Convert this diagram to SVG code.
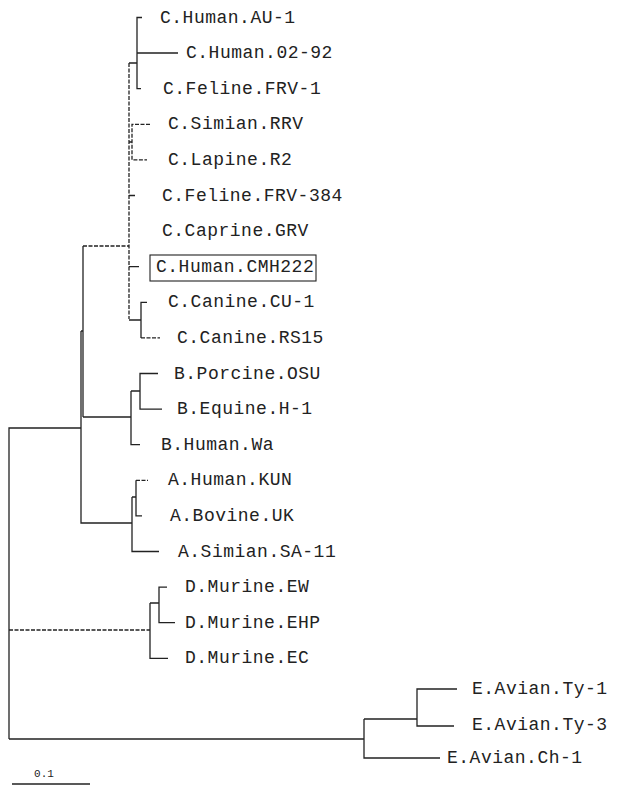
<svg xmlns="http://www.w3.org/2000/svg" width="624" height="788" viewBox="0 0 624 788">
<style>
.e{stroke:#222;stroke-width:1.3;fill:none}
.d{stroke:#222;stroke-width:1.3;fill:none;stroke-dasharray:4 1.5}
.t{font-family:"Liberation Mono","Courier New",monospace;font-size:18px;letter-spacing:0.5px;fill:#222}
.s{font-family:"Liberation Mono","Courier New",monospace;font-size:11px;fill:#222}
.box{stroke:#222;stroke-width:1.1;fill:none}
</style>
<rect width="624" height="788" fill="#fff"/>
<g id="connectors">
<path class="e" d="M142 17.5H137V88.7H141M137 53H178M129 63H137"/>
<path class="d" d="M129 63V319"/>
<path class="d" d="M150 124.3H132V159.9H147M129 142H132"/>
<path class="e" d="M129 195.5H135M129 266.7H139"/>
<path class="e" d="M129 320H141M147 302.3H141V337.9"/>
<path class="d" d="M141 337.9H160"/>
<path class="d" d="M83 246H129"/>
<path class="e" d="M83 246V417"/>
<path class="e" d="M83 417H131M131 391V444.7H140M131 391H140M158 373.5H140V409.1H162"/>
<path class="e" d="M81 331H83M81 331V523H132M132 497V551.5H159M132 497H136M136 480.3V515.9H142"/>
<path class="d" d="M136 480.3H148"/>
<path class="e" d="M81 428H9V739"/>
<path class="d" d="M9 630H150"/>
<path class="e" d="M150 603V658.3H168M150 603H159M167 587.1H159V622.7H175"/>
<path class="e" d="M9 739H364M364 719V758H440M364 719H417M457 689H417V726H454"/>
<path class="e" d="M12 784H90"/>
</g>
<g id="n-AU1"><text class="t" x="160" y="22.5">C.Human.AU-1</text></g>
<g id="n-0292"><text class="t" x="186" y="58">C.Human.02-92</text></g>
<g id="n-FRV1"><text class="t" x="163" y="93.7">C.Feline.FRV-1</text></g>
<g id="n-RRV"><text class="t" x="168" y="129.3">C.Simian.RRV</text></g>
<g id="n-R2"><text class="t" x="168" y="164.9">C.Lapine.R2</text></g>
<g id="n-FRV384"><text class="t" x="162" y="200.5">C.Feline.FRV-384</text></g>
<g id="n-GRV"><text class="t" x="162" y="236.1">C.Caprine.GRV</text></g>
<g id="n-CMH222"><rect class="box" x="150" y="255" width="166" height="26"/><text class="t" x="156" y="271.7">C.Human.CMH222</text></g>
<g id="n-CU1"><text class="t" x="168" y="307.3">C.Canine.CU-1</text></g>
<g id="n-RS15"><text class="t" x="177" y="342.9">C.Canine.RS15</text></g>
<g id="n-OSU"><text class="t" x="174" y="378.5">B.Porcine.OSU</text></g>
<g id="n-H1"><text class="t" x="177" y="414.1">B.Equine.H-1</text></g>
<g id="n-Wa"><text class="t" x="161" y="449.7">B.Human.Wa</text></g>
<g id="n-KUN"><text class="t" x="168" y="485.3">A.Human.KUN</text></g>
<g id="n-UK"><text class="t" x="170" y="520.9">A.Bovine.UK</text></g>
<g id="n-SA11"><text class="t" x="178" y="556.5">A.Simian.SA-11</text></g>
<g id="n-EW"><text class="t" x="185" y="592.1">D.Murine.EW</text></g>
<g id="n-EHP"><text class="t" x="185" y="627.7">D.Murine.EHP</text></g>
<g id="n-EC"><text class="t" x="185" y="663.3">D.Murine.EC</text></g>
<g id="n-Ty1"><text class="t" x="472" y="694">E.Avian.Ty-1</text></g>
<g id="n-Ty3"><text class="t" x="472" y="730">E.Avian.Ty-3</text></g>
<g id="n-Ch1"><text class="t" x="447" y="763">E.Avian.Ch-1</text></g>
<g id="scale"><text class="s" x="44" y="777" text-anchor="middle">0.1</text></g>
</svg>
